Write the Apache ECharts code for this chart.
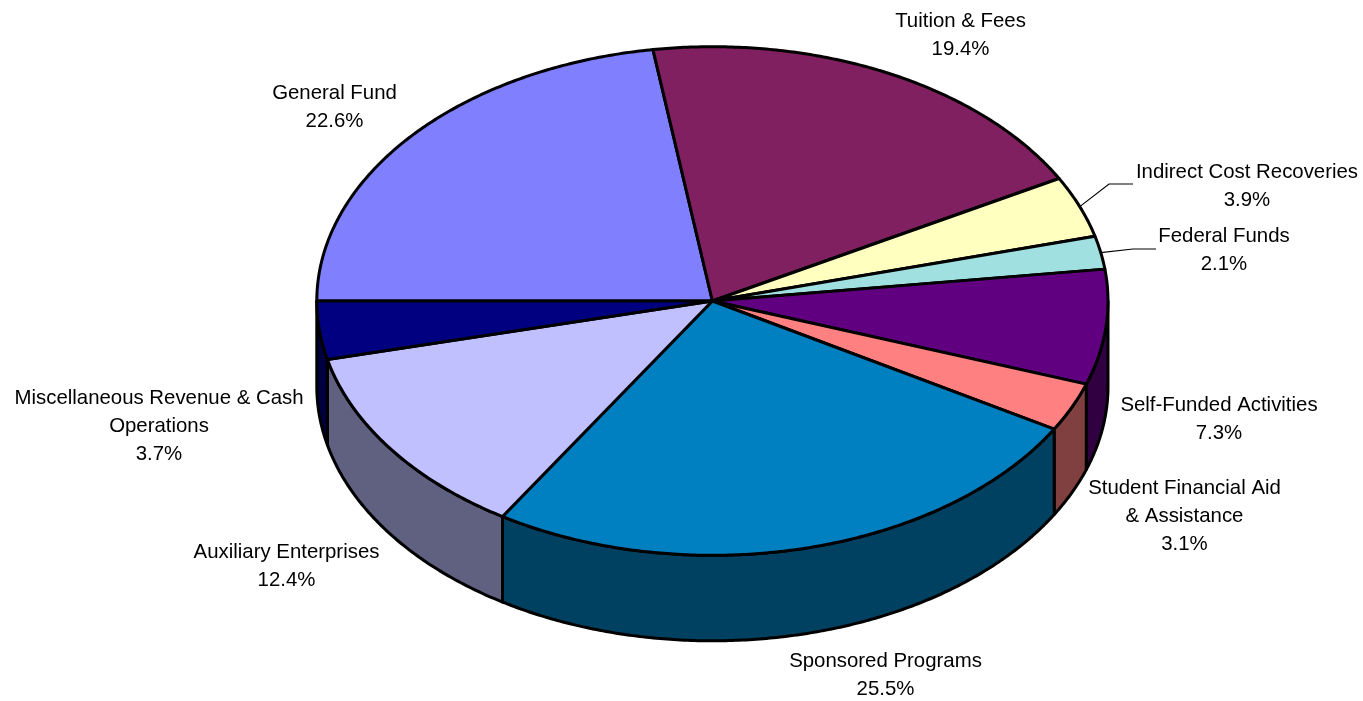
<!DOCTYPE html>
<html>
<head>
<meta charset="utf-8">
<style>html,body{margin:0;padding:0;background:#fff}#chart{width:1363px;height:701px}</style>
<script src="https://cdn.jsdelivr.net/npm/echarts@6/dist/echarts.min.js"></script>
</head>
<body>
<div id="chart"></div>
<script>
// Data
var categories = ['General Fund', 'Tuition & Fees', 'Indirect Cost Recoveries', 'Federal Funds', 'Self-Funded Activities', 'Student Financial Aid\n& Assistance', 'Sponsored Programs', 'Auxiliary Enterprises', 'Miscellaneous Revenue & Cash\nOperations'];
var shares = [22.6, 19.4, 3.9, 2.1, 7.3, 3.1, 25.5, 12.4, 3.7];

// Styles
var topColors = ['#8080FF', '#802060', '#FFFFC0', '#A0E0E0', '#600080', '#FF8080', '#0080C0', '#C0C0FF', '#000080'];
var sideColors = ['#404080', '#401030', '#808060', '#507070', '#300040', '#804040', '#004060', '#606080', '#000040'];

// Layout
var pie = { cx: 712.4, cy: 301, rx: 395.6, ry: 254.3, depth: 85.5, startDeg: 270 };
var labelCentres = [[334.5, 107], [960.5, 35], [1247, 186], [1224, 250], [1219, 419], [1184.5, 516], [885.5, 675], [286.5, 566], [159, 426]];
var leaderBends = { 2: [[1109, 184], [1133, 184]], 3: [[1133, 249], [1156, 249]] };
var total = shares.reduce(function (a, b) { return a + b; }, 0);

function startOf(i) {
  var s = 0;
  for (var k = 0; k < i; k++) s += shares[k];
  return pie.startDeg + s / total * 360;
}
function rimPoint(deg, drop) {
  var t = deg * Math.PI / 180;
  return [pie.cx + pie.rx * Math.sin(t), pie.cy - pie.ry * Math.cos(t) + (drop || 0)];
}
function arc(a0, a1, drop) {
  var pts = [], n = Math.max(2, Math.ceil(Math.abs(a1 - a0) * 2));
  for (var i = 0; i <= n; i++) pts.push(rimPoint(a0 + (a1 - a0) * i / n, drop));
  return pts;
}
function styled(fill) { return { fill: fill, stroke: '#000', lineWidth: 3, lineJoin: 'round' }; }

function renderSide(params, api) {
  var i = params.dataIndex;
  var a0 = startOf(i), a1 = a0 + api.value(0) / total * 360;
  var children = [];
  // visible wall: rim angles 90..270 (also checked one turn up)
  [0, 360].forEach(function (turn) {
    var lo = Math.max(a0, 90 + turn), hi = Math.min(a1, 270 + turn);
    if (hi > lo) {
      var pts = arc(lo, hi, 0).concat(arc(hi, lo, pie.depth));
      children.push({ type: 'polygon', shape: { points: pts }, style: styled(sideColors[i]) });
    }
  });
  return { type: 'group', children: children };
}
function renderTop(params, api) {
  var i = params.dataIndex;
  var a0 = startOf(i), a1 = a0 + api.value(0) / total * 360;
  var pts = [[pie.cx, pie.cy]].concat(arc(a0, a1, 0));
  return { type: 'polygon', shape: { points: pts }, style: styled(topColors[i]) };
}
function renderLabel(params, api) {
  var i = params.dataIndex;
  var v = api.value(0);
  var c = labelCentres[i];
  var children = [{
    type: 'text',
    style: {
      x: c[0], y: c[1], text: categories[i] + '\n' + v.toFixed(1) + '%',
      fill: '#000', font: '20.4px "Liberation Sans", Arial, sans-serif',
      align: 'center', verticalAlign: 'middle', lineHeight: 28
    }
  }];
  if (leaderBends[i]) {
    var mid = startOf(i) + v / total * 180;
    var pts = [rimPoint(mid, 0)].concat(leaderBends[i]);
    children.push({ type: 'polyline', shape: { points: pts }, style: { fill: null, stroke: '#000', lineWidth: 1.2 } });
  }
  return { type: 'group', children: children };
}

var chart = echarts.init(document.getElementById('chart'), null, { renderer: 'canvas' });
var rows = shares.map(function (v, i) { return { name: categories[i], value: [v] }; });
chart.setOption({
  animation: false,
  backgroundColor: '#fff',
  tooltip: { show: false },
  series: [
    { type: 'custom', coordinateSystem: 'none', name: 'walls', data: rows, renderItem: renderSide, silent: true, z: 1 },
    { type: 'custom', coordinateSystem: 'none', name: 'tops', data: rows, renderItem: renderTop, silent: true, z: 2 },
    { type: 'custom', coordinateSystem: 'none', name: 'labels', data: rows, renderItem: renderLabel, silent: true, z: 3 }
  ]
});
</script>
</body>
</html>
